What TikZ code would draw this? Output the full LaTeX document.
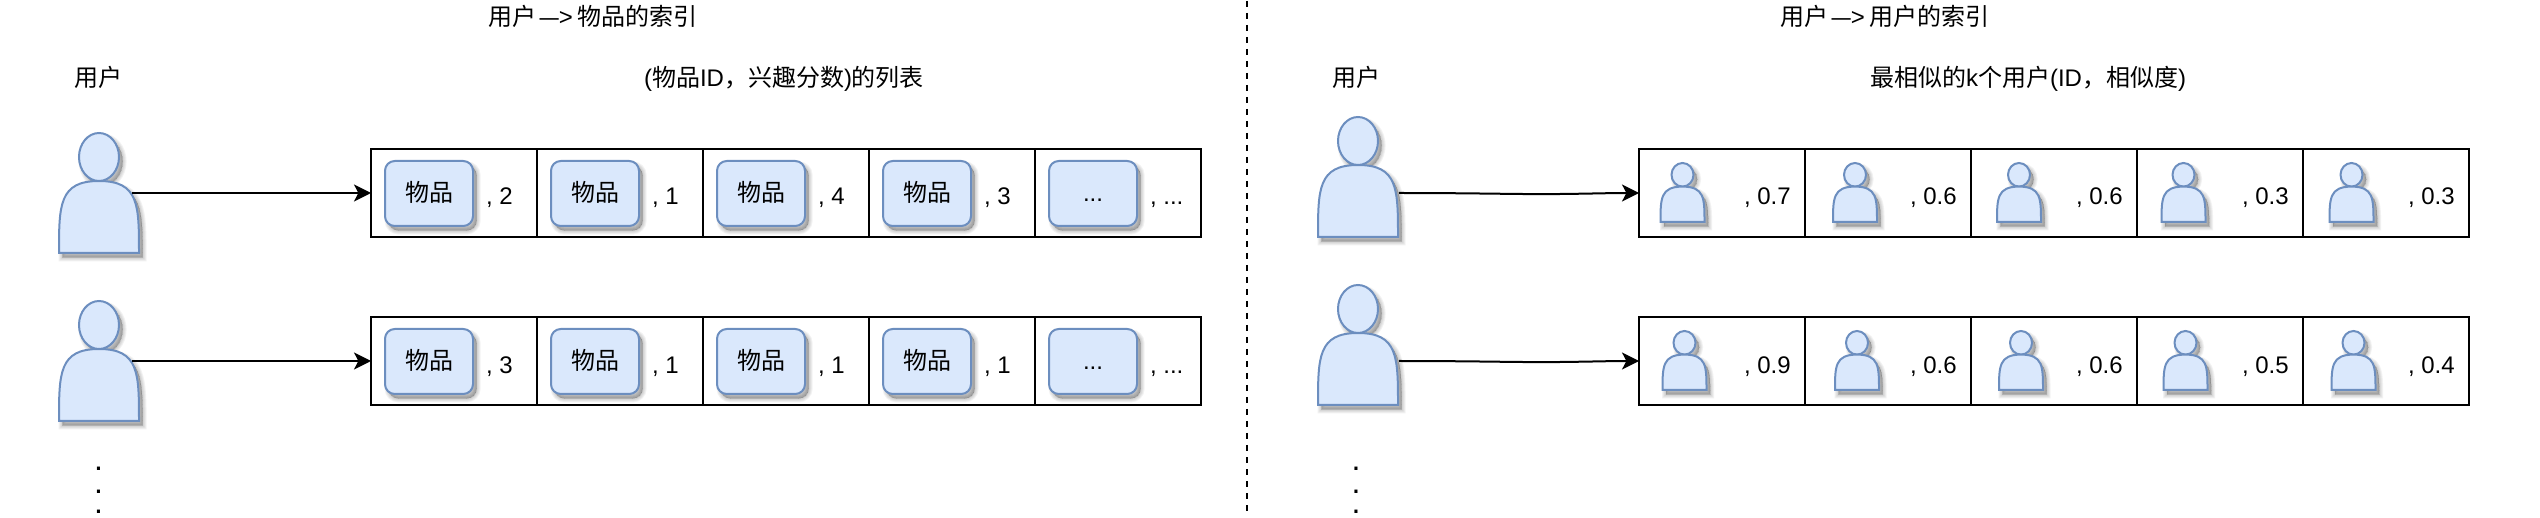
\documentclass[tikz,border=0pt]{standalone}
\usepackage{fontspec}
\setmainfont{Liberation Sans}
\newfontfamily\cjk{Noto Sans CJK SC}
\usetikzlibrary{arrows.meta}
\definecolor{shapefill}{HTML}{DAE8FC}
\definecolor{shapeline}{HTML}{6C8EBF}
\newcommand{\threedots}{...}
\newcommand{\maparrow}{\hspace{0.12em}\scalebox{0.8}[1]{—}>\hspace{0.18em}}
\tikzset{
  x=0.5pt,y=-0.5pt,
  txt/.style={inner sep=0pt,outer sep=0pt,font=\fontsize{12pt}{14pt}\selectfont,anchor=base},
  dotmark/.style={inner sep=0pt,outer sep=0pt,font=\fontsize{16pt}{18pt}\selectfont,anchor=base},
  cellbox/.style={draw=black,line width=1pt,minimum width=83pt,minimum height=44pt,inner sep=0pt,outer sep=0pt},
  itembox/.style={draw=shapeline,fill=shapefill,line width=1pt,rounded corners=4.9pt,minimum width=44pt,minimum height=32.5pt,inner sep=0pt,outer sep=0pt,
     text height=8.6pt,text depth=0.5pt,font=\fontsize{12pt}{14pt}\selectfont},
  link/.style={draw=black,line width=1pt,-{Stealth[length=8.5pt,width=8.5pt,inset=2.2pt]}},
  divider/.style={draw=black,line width=1pt,dash pattern=on 3pt off 3pt},
  shade layer/.style={fill=black,draw=black,opacity=0.05,line width=#1},
}
% name, left, top, width, height
\newcommand{\actor}[5]{%
  \begin{scope}[shift={(#2,#3)},x={#4*0.5pt},y={-#5*0.5pt}]
    \foreach \lw in {0pt,1pt,2pt,3pt,4pt}{
      \begin{scope}[xshift=1.8pt,yshift=-2.2pt]
        \path[shade layer=\lw] (0.5,0.2) ellipse [x radius={#4*0.125pt},y radius={#5*0.1pt}];
        \path[shade layer=\lw] (0,1) .. controls (0,0.6) and (0,0.4) .. (0.5,0.4) .. controls (1,0.4) and (1,0.6) .. (1,1) -- cycle;
      \end{scope}}
    \path[draw=shapeline,fill=shapefill,line width=1pt] (0.5,0.2) ellipse [x radius={#4*0.125pt},y radius={#5*0.1pt}];
    \path[draw=shapeline,fill=shapefill,line width=1pt] (0,1) .. controls (0,0.6) and (0,0.4) .. (0.5,0.4) .. controls (1,0.4) and (1,0.6) .. (1,1) -- cycle;
    \node[inner sep=0pt,minimum width=#4*0.5pt,minimum height=#5*0.5pt] (#1) at (0.5,0.5) {};
  \end{scope}}
% name, left, top, text
\newcommand{\itemcard}[4]{%
  \foreach \lw in {0pt,1pt,2pt,3pt,4pt}{
    \path[shade layer=\lw,rounded corners=4.9pt] (#2+3.6,#3+4.4) rectangle ++(88,65);}
  \node[itembox,anchor=north west] (#1) at (#2,#3) {#4};}
\begin{document}
\begin{tikzpicture}
\useasboundingbox (0,0) rectangle (2540,518);

% left panel
\node[txt] (t1) at (593,26) {{\cjk 用户}\maparrow{\cjk 物品的索引}};
\node[txt] (h1) at (98.5,86.5) {\cjk 用户};
\node[txt] (h2) at (784,86.5) {({\cjk 物品}ID{\cjk ，兴趣分数}){\cjk 的列表}};
\actor{ua}{59}{133}{80}{120}
\actor{ub}{59}{301}{80}{120}
\coordinate (uaout) at (132,193);
\coordinate (ubout) at (132,361);
\foreach \r/\y/\vals in {a/149/{2,1,4,3,\threedots},b/317/{3,1,1,1,\threedots}}{
  \foreach \v [count=\i from 0] in \vals {
    \pgfmathsetmacro\cx{371+166*\i}
    \node[cellbox,anchor=north west] (c\r\i) at (\cx,\y) {};
    \ifnum\i<4
      \itemcard{i\r\i}{\cx+14}{\y+12}{\cjk 物品}
    \else
      \itemcard{i\r\i}{\cx+14}{\y+12}{\threedots}
    \fi
    \node[txt,anchor=base west] (l\r\i) at (\cx+115,\y+56) {, \v};
  }
}
\draw[link] (uaout) -- (ca0.west);
\draw[link] (ubout) -- (cb0.west);
\node[dotmark] (d1) at (98.5,470) {.};
\node[dotmark] (d2) at (98.5,494) {.};
\node[dotmark] (d3) at (98.5,513) {.};

% separator
\coordinate (sepa) at (1247,1);
\coordinate (sepb) at (1247,512);
\draw[divider] (sepa) -- (sepb);

% right panel
\node[txt] (t2) at (1885,26) {{\cjk 用户}\maparrow{\cjk 用户的索引}};
\node[txt] (h3) at (1356.5,86.5) {\cjk 用户};
\node[txt] (h4) at (2028,86.5) {{\cjk 最相似的}k{\cjk 个用户}(ID{\cjk ，相似度})};
\actor{uc}{1318}{117}{80}{120}
\actor{ud}{1318}{285}{80}{120}
\coordinate (ucout) at (1399,193);
\coordinate (udout) at (1399,361);
\foreach \r/\y/\ty/\vals in {c/149/163/{0.7/1660.5,0.6/1833,0.6/1997,0.3/2161.5,0.3/2329.5},d/317/331/{0.9/1662.5,0.6/1835,0.6/1999,0.5/2163.5,0.4/2331.5}}{
  \foreach \v/\ax [count=\i from 0] in \vals {
    \pgfmathsetmacro\cx{1639+166*\i}
    \node[cellbox,anchor=north west] (c\r\i) at (\cx,\y) {};
    \actor{s\r\i}{\ax}{\ty}{44}{59}
    \node[txt,anchor=base west] (l\r\i) at (\cx+105,\y+56) {, \v};
  }
}
\draw[link] (ucout) .. controls (1480,193) and (1520,194.5) .. (1560,194) .. controls (1590,193.7) and (1610,193) .. (cc0.west);
\draw[link] (udout) .. controls (1480,361) and (1520,362.5) .. (1560,362) .. controls (1590,361.7) and (1610,361) .. (cd0.west);
\node[dotmark] (d4) at (1356,470) {.};
\node[dotmark] (d5) at (1356,494) {.};
\node[dotmark] (d6) at (1356,513) {.};
\end{tikzpicture}
\end{document}
